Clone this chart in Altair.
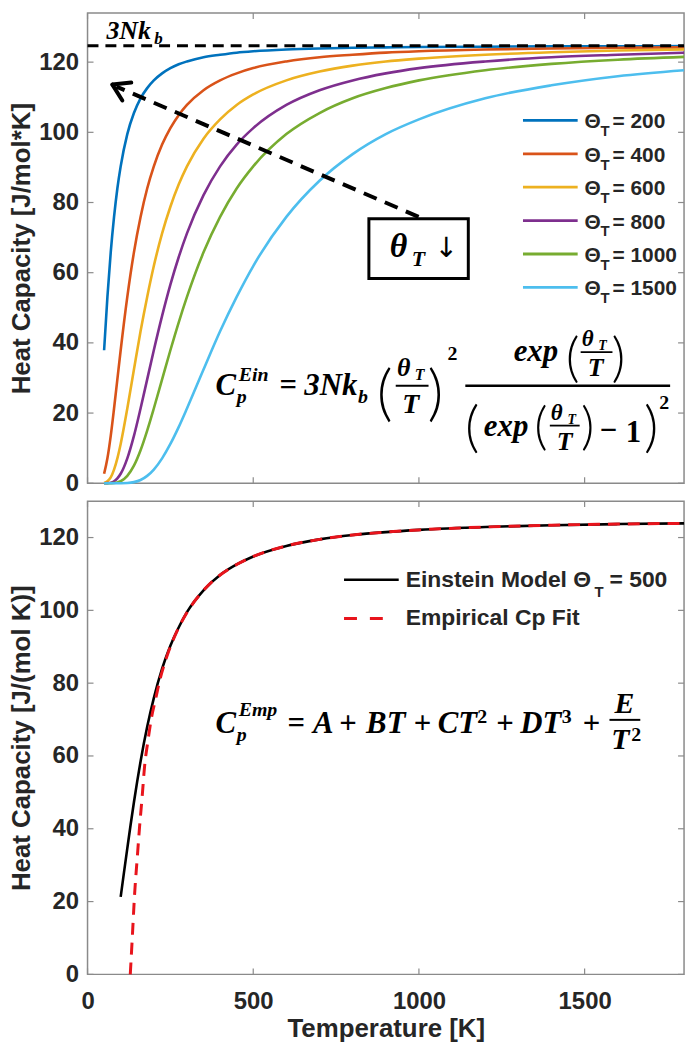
import altair as alt
import pandas as pd

# ---------------- data ----------------
T_top = [50, 60, 70, 80, 90, 100, 120, 140, 160, 180, 200, 225, 250, 275, 300,
         350, 400, 450, 500, 600, 700, 800, 900, 1000, 1200, 1400, 1600, 1800]
cp_theta200 = [37.9, 53.1, 65.8, 75.9, 84.0, 90.3, 99.5, 105.5, 109.7, 112.6, 114.8, 116.8, 118.3, 119.4,
               120.2, 121.4, 122.1, 122.7, 123.1, 123.6, 123.9, 124.1, 124.2, 124.3, 124.4, 124.5, 124.5, 124.6]
cp_theta400 = [2.7, 7.1, 13.5, 21.3, 29.6, 37.9, 53.1, 65.8, 75.9, 84.0, 90.3, 96.5, 101.2, 104.9,
               107.8, 112.0, 114.8, 116.8, 118.3, 120.2, 121.4, 122.1, 122.7, 123.1, 123.6, 123.9, 124.1, 124.2]
cp_theta600 = [0.1, 0.6, 1.7, 3.9, 7.1, 11.2, 21.3, 32.4, 43.3, 53.1, 61.9, 71.2, 78.8, 85.1,
               90.3, 98.2, 103.7, 107.8, 110.8, 114.8, 117.3, 119.0, 120.2, 121.0, 122.1, 122.8, 123.3, 123.6]
cp_theta800 = [0.0, 0.04, 0.18, 0.57, 1.4, 2.7, 7.1, 13.5, 21.3, 29.6, 37.9, 47.7, 56.6, 64.4,
               71.2, 82.1, 90.3, 96.5, 101.2, 107.8, 112.0, 114.8, 116.8, 118.3, 120.2, 121.4, 122.1, 122.7]
cp_theta1000 = [0.0, 0.0, 0.02, 0.07, 0.23, 0.57, 2.1, 5.0, 9.4, 15.0, 21.3, 29.6, 37.9, 45.8,
                53.1, 65.8, 75.9, 84.0, 90.3, 99.5, 105.5, 109.7, 112.6, 114.8, 117.7, 119.5, 120.7, 121.5]
cp_theta1500 = [0.0, 0.0, 0.0, 0.0, 0.0, 0.01, 0.07, 0.32, 0.93, 2.1, 3.9, 7.1, 11.2, 16.0,
                21.3, 32.4, 43.3, 53.1, 61.9, 75.9, 86.2, 93.8, 99.5, 103.7, 109.7, 113.4, 116.0, 117.7]
theta_labels = ["200", "400", "600", "800", "1000", "1500"]
theta_colors = ["#0072BD", "#D95319", "#EDB120", "#7E2F8E", "#77AC30", "#4DBEEE"]
limit_3Nkb = [124.7]

T_ein500 = [100, 110, 120, 130, 140, 150, 160, 180, 200, 225, 250, 275, 300, 350, 400,
            450, 500, 600, 700, 800, 900, 1000, 1200, 1400, 1600, 1800]
cp_ein500 = [21.3, 28.0, 34.6, 41.1, 47.3, 53.1, 58.5, 68.0, 75.9, 84.0, 90.3, 95.3, 99.5, 105.5, 109.7,
             112.6, 114.8, 117.7, 119.5, 120.7, 121.5, 122.1, 122.9, 123.4, 123.7, 123.9]
T_emp = [129, 135, 142, 150, 157, 165, 172, 182, 192, 205, 220, 240, 270, 300, 350, 400,
         450, 500, 600, 700, 800, 900, 1000, 1200, 1400, 1600, 1800]
cp_emp = [0.0, 10.0, 22.0, 32.0, 40.5, 49.0, 57.0, 64.0, 70.0, 75.5, 81.5, 87.5, 94.3, 99.4, 105.5, 109.7,
          112.6, 114.8, 117.7, 119.5, 120.7, 121.5, 122.1, 122.9, 123.4, 123.7, 123.9]

y_ticks = [0, 20, 40, 60, 80, 100, 120]
x_ticks = [0, 500, 1000, 1500]

# ---------------- layout / style ----------------
W = 600
H1 = 473
H2 = 476
X_DOM = [0, 1800]
Y1_DOM = [0, 134]
Y2_DOM = [0, 130]
PLOT_LEFT = 87      # absolute x of plot area
TOP1 = 8            # absolute y of top plot area
TOP2 = 499          # absolute y of bottom plot area
GRAY = "#8a8a8a"
INK = "#262626"
SANS = "Liberation Sans"
SERIF = "Liberation Serif"
PAREN_FONT = "Lato"

one = pd.DataFrame({"k": [0]})


def xs():
    return alt.Scale(domain=X_DOM, nice=False, zero=False)


def ys(dom):
    return alt.Scale(domain=dom, nice=False, zero=False)


def txt(s, X, Y, size, top, italic=True, bold=True, align="left", font=SERIF, color="black", weight=None):
    return alt.Chart(one).mark_text(
        text=s, font=font, fontSize=size,
        fontStyle="italic" if italic else "normal",
        fontWeight=weight if weight is not None else ("bold" if bold else "normal"),
        align=align, baseline="alphabetic", color=color,
    ).encode(x=alt.value(X - PLOT_LEFT), y=alt.value(Y - top))


def seg(X1, Y1, X2, Y2, top, width=2.0, color="black", dash=None, cap="butt"):
    kw = dict(color=color, strokeWidth=width, strokeCap=cap)
    if dash:
        kw["strokeDash"] = dash
    return alt.Chart(one).mark_rule(**kw).encode(
        x=alt.value(X1 - PLOT_LEFT), y=alt.value(Y1 - top),
        x2=alt.value(X2 - PLOT_LEFT), y2=alt.value(Y2 - top))


def yaxis(title):
    return alt.Axis(values=y_ticks, ticks=False, domain=False, grid=False,
                    labelFont=SANS, labelFontSize=24, labelFontWeight="bold", labelColor=INK,
                    labelPadding=9, title=title, titleFont=SANS, titleFontSize=26,
                    titleFontWeight="bold", titleColor=INK, titlePadding=4)


XAXIS = alt.Axis(values=x_ticks, format="d", ticks=False, domain=False, grid=False, labelFlush=False,
                 labelFont=SANS, labelFontSize=24, labelFontWeight="bold", labelColor=INK,
                 labelPadding=15, title="Temperature [K]", titleFont=SANS, titleFontSize=26,
                 titleFontWeight="bold", titleColor=INK, titlePadding=2)


def tick_layers(ydom, h, xax, yax):
    tx = pd.DataFrame({"t": x_ticks})
    ty = pd.DataFrame({"v": y_ticks})
    L = 6
    base_x = alt.Chart(tx).mark_rule(color=GRAY, strokeWidth=1.2)
    base_y = alt.Chart(ty).mark_rule(color=GRAY, strokeWidth=1.2)
    return [
        base_x.encode(x=alt.X("t:Q", scale=xs(), axis=xax), y=alt.value(0), y2=alt.value(L)),
        base_x.encode(x=alt.X("t:Q", scale=xs(), axis=xax), y=alt.value(h), y2=alt.value(h - L)),
        base_y.encode(y=alt.Y("v:Q", scale=ys(ydom), axis=yax), x=alt.value(0), x2=alt.value(L)),
        base_y.encode(y=alt.Y("v:Q", scale=ys(ydom), axis=yax), x=alt.value(W), x2=alt.value(W - L)),
    ]


# ---------------- top panel ----------------
YAX1 = yaxis("Heat Capacity [J/mol*K]")
rows = []
for lab, vals in zip(theta_labels, [cp_theta200, cp_theta400, cp_theta600,
                                    cp_theta800, cp_theta1000, cp_theta1500]):
    for t, v in zip(T_top, vals):
        rows.append({"T": t, "Cp": v, "theta": lab})
df_top = pd.DataFrame(rows)

curves = alt.Chart(df_top).mark_line(strokeWidth=2.6, interpolate="monotone").encode(
    x=alt.X("T:Q", scale=xs(), axis=None),
    y=alt.Y("Cp:Q", scale=ys(Y1_DOM), axis=YAX1),
    color=alt.Color("theta:N", scale=alt.Scale(domain=theta_labels, range=theta_colors), legend=None),
)

limit_line = alt.Chart(pd.DataFrame({"c": limit_3Nkb})).mark_rule(
    color="black", strokeWidth=3, strokeDash=[11, 7]).encode(
    y=alt.Y("c:Q", scale=ys(Y1_DOM), axis=YAX1), x=alt.value(0), x2=alt.value(W))

top_layers = [curves, limit_line] + tick_layers(Y1_DOM, H1, None, YAX1)

# 3Nk_b label (kept fully inside the plot area so it does not push the layout)
top_layers += [txt("3Nk", 106, 34, 26, TOP1), txt("b", 154, 39, 17, TOP1)]

# dashed arrow and box
top_layers += [
    seg(420, 213, 116, 82, TOP1, width=4, dash=[14, 9]),
    seg(112, 80, 131, 78, TOP1, width=4, cap="round"),
    seg(112, 80, 122, 96, TOP1, width=4, cap="round"),
    alt.Chart(one).mark_rect(fillOpacity=0, stroke="black", strokeWidth=3).encode(
        x=alt.value(370 - PLOT_LEFT), x2=alt.value(470 - PLOT_LEFT),
        y=alt.value(215 - TOP1), y2=alt.value(275 - TOP1)),
    txt("θ", 391, 253, 34, TOP1),
    txt("T", 413, 262, 22, TOP1),
    txt("↓", 436, 253, 28, TOP1, italic=False, bold=False, font="DejaVu Sans"),
]

# legend (top)
for i, (lab, col) in enumerate(zip(theta_labels, theta_colors)):
    yc = 116 + 33.6 * i
    top_layers += [
        seg(525, yc, 580, yc, TOP1, width=2.8, color=col),
        txt("Θ", 587, yc + 8, 21, TOP1, italic=False, font=SANS, color=INK),
        txt("T", 603, yc + 16, 15, TOP1, italic=False, font=SANS, color=INK),
        txt("= " + lab, 615, yc + 8, 21, TOP1, italic=False, font=SANS, color=INK),
    ]

# Einstein formula (top)
ein_pieces = [
    ("C", 226, 392, 31, True, True, "center"),
    ("Ein", 239, 378, 20, True, True, "left"),
    ("p", 237, 400, 20, True, True, "left"),
    ("=", 289, 392, 31, False, True, "center"),
    ("3Nk", 305, 392, 31, True, True, "left"),
    ("b", 359, 400, 20, True, True, "left"),
    ("θ", 405, 373, 26, True, True, "center"),
    ("T", 421, 377, 16, True, True, "center"),
    ("T", 412, 410, 28, True, True, "center"),
    ("2", 454, 357, 20, False, True, "center"),
    ("exp", 538, 358, 31, True, True, "center"),
    ("θ", 590, 343, 23, True, True, "center"),
    ("T", 605, 347, 14, True, True, "center"),
    ("T", 598, 373, 26, True, True, "center"),
    ("exp", 508, 433, 31, True, True, "center"),
    ("θ", 559, 417, 23, True, True, "center"),
    ("T", 574, 421, 14, True, True, "center"),
    ("T", 567, 448, 26, True, True, "center"),
    ("−", 611, 437, 31, False, True, "center"),
    ("1", 636, 440, 31, False, True, "center"),
    ("2", 667, 406, 20, False, True, "center"),
]
for s, X, Y, size, it, bd, al in ein_pieces:
    top_layers.append(txt(s, X, Y, size, TOP1, italic=it, bold=bd, align=al))
paren_pieces = [
    ("(", 386, 411, 62), (")", 437, 411, 62),
    ("(", 575, 373, 54), (")", 621, 373, 54),
    ("(", 474, 444, 56), (")", 654, 444, 56),
    ("(", 543, 442, 52), (")", 590, 442, 52),
]
for s, X, Y, size in paren_pieces:
    top_layers.append(txt(s, X, Y, size, TOP1, italic=False, align="center",
                          font=PAREN_FONT, weight=300))
top_layers += [
    seg(397, 383, 430, 383, TOP1, width=2),
    seg(467, 383, 673, 383, TOP1, width=2.5),
    seg(583, 349, 615, 349, TOP1, width=1.8),
    seg(552, 423, 582, 423, TOP1, width=1.8),
]

top = alt.layer(*top_layers).properties(width=W, height=H1)

# ---------------- bottom panel ----------------
YAX2 = yaxis("Heat Capacity [J/(mol K)]")
df_ein = pd.DataFrame({"T": T_ein500, "Cp": cp_ein500})
df_emp = pd.DataFrame({"T": T_emp, "Cp": cp_emp})

ein_line = alt.Chart(df_ein).mark_line(color="black", strokeWidth=2.6, interpolate="monotone").encode(
    x=alt.X("T:Q", scale=xs(), axis=XAXIS),
    y=alt.Y("Cp:Q", scale=ys(Y2_DOM), axis=YAX2),
)
emp_line = alt.Chart(df_emp).mark_line(color="#e8141c", strokeWidth=3, strokeDash=[12, 8],
                                       interpolate="monotone").encode(
    x=alt.X("T:Q", scale=xs(), axis=XAXIS),
    y=alt.Y("Cp:Q", scale=ys(Y2_DOM), axis=YAX2),
)

bot_layers = [ein_line, emp_line] + tick_layers(Y2_DOM, H2, XAXIS, YAX2)

# legend (bottom)
bot_layers += [
    seg(345, 578, 400, 578, TOP2, width=2.6, color="black"),
    txt("Einstein Model Θ", 407, 585, 23, TOP2, italic=False, font=SANS, color=INK),
    txt("T", 597, 595, 15, TOP2, italic=False, font=SANS, color=INK),
    txt("= 500", 612, 585, 23, TOP2, italic=False, font=SANS, color=INK),
    seg(345, 617, 392, 617, TOP2, width=3, color="#e8141c", dash=[13, 13]),
    txt("Empirical Cp Fit", 407, 624, 23, TOP2, italic=False, font=SANS, color=INK),
]

emp_pieces = [
    ("C", 226, 732, 31, True, True, "center"),
    ("Emp", 239, 715, 20, True, True, "left"),
    ("p", 237, 740, 20, True, True, "left"),
    ("=", 297, 732, 31, False, True, "center"),
    ("A", 324, 732, 31, True, True, "center"),
    ("+", 349, 732, 31, False, True, "center"),
    ("BT", 387, 732, 31, True, True, "center"),
    ("+", 424, 732, 31, False, True, "center"),
    ("CT", 459, 732, 31, True, True, "center"),
    ("2", 484, 722, 20, False, True, "center"),
    ("+", 507, 732, 31, False, True, "center"),
    ("DT", 543, 732, 31, True, True, "center"),
    ("3", 569, 722, 20, False, True, "center"),
    ("+", 594, 732, 31, False, True, "center"),
    ("E", 627, 712, 30, True, True, "center"),
    ("T", 623, 748, 30, True, True, "center"),
    ("2", 639, 740, 20, False, True, "center"),
]
for s, X, Y, size, it, bd, al in emp_pieces:
    bot_layers.append(txt(s, X, Y, size, TOP2, italic=it, bold=bd, align=al))
bot_layers.append(seg(612, 719, 643, 719, TOP2, width=2))

bottom = alt.layer(*bot_layers).properties(width=W, height=H2)

chart = alt.vconcat(top, bottom, spacing=18, bounds="flush").properties(padding=0).configure(
    padding=0).configure_view(stroke=GRAY, strokeWidth=1.5)

chart.save("out.html", embed_options={"renderer": "svg", "actions": False})
